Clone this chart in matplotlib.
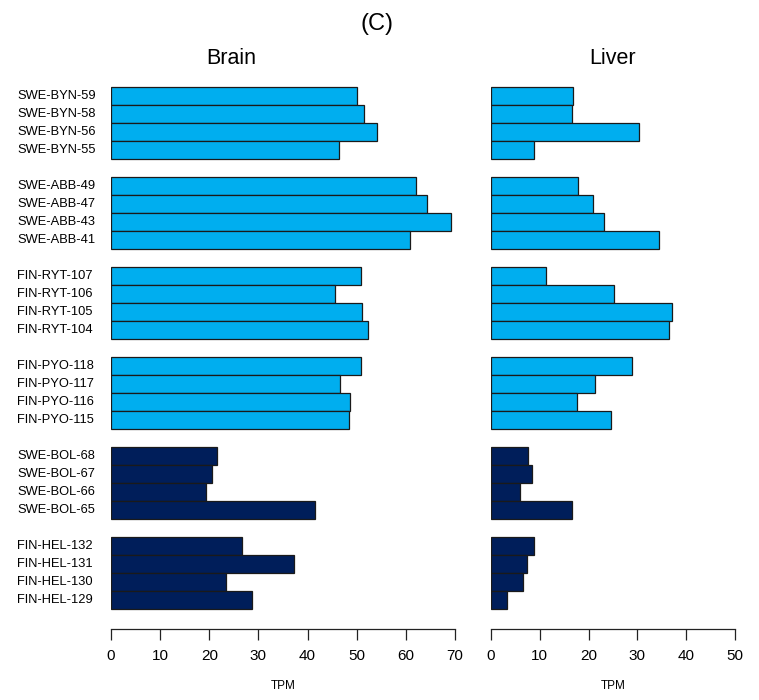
import matplotlib
matplotlib.use("Agg")
import matplotlib.pyplot as plt
import matplotlib.transforms as mtransforms

plt.rcParams['font.family'] = ['Liberation Sans', 'DejaVu Sans']

# ---- data ----
samples = [
    "SWE-BYN-59", "SWE-BYN-58", "SWE-BYN-56", "SWE-BYN-55",
    "SWE-ABB-49", "SWE-ABB-47", "SWE-ABB-43", "SWE-ABB-41",
    "FIN-RYT-107", "FIN-RYT-106", "FIN-RYT-105", "FIN-RYT-104",
    "FIN-PYO-118", "FIN-PYO-117", "FIN-PYO-116", "FIN-PYO-115",
    "SWE-BOL-68", "SWE-BOL-67", "SWE-BOL-66", "SWE-BOL-65",
    "FIN-HEL-132", "FIN-HEL-131", "FIN-HEL-130", "FIN-HEL-129",
]
brain_tpm = [
    50.1, 51.4, 54.2, 46.3,
    62.1, 64.4, 69.2, 60.9,
    50.8, 45.6, 51.0, 52.2,
    50.9, 46.5, 48.7, 48.5,
    21.5, 20.6, 19.4, 41.6,
    26.6, 37.2, 23.4, 28.7,
]
liver_tpm = [
    16.9, 16.6, 30.3, 8.9,
    17.8, 20.8, 23.2, 34.4,
    11.2, 25.2, 37.1, 36.4,
    28.8, 21.3, 17.6, 24.5,
    7.6, 8.5, 5.9, 16.7,
    8.8, 7.4, 6.6, 3.3,
]
# first four populations light blue, last two dark
group_of = [g for g in range(6) for _ in range(4)]
dark_groups = [4, 5]

light = "#00AEEF"
dark = "#001E5A"
colors = [dark if g in dark_groups else light for g in group_of]

# one empty bar slot between groups
ypos = [g * 5 + (i % 4) for i, g in enumerate(group_of)]

fig = plt.figure(figsize=(7.59, 7.0), dpi=100)
ax_b = fig.add_axes([111 / 759, 1 - 628.7 / 700, 344 / 759, (628.7 - 66.7) / 700])
ax_l = fig.add_axes([491 / 759, 1 - 628.7 / 700, 244 / 759, (628.7 - 66.7) / 700])

for ax, vals, xmax in [(ax_b, brain_tpm, 70), (ax_l, liver_tpm, 50)]:
    ax.barh(ypos, vals, height=1.0, color=colors, edgecolor="#1a1a1a", linewidth=0.9)
    ax.set_xlim(0, xmax)
    ax.set_ylim(29.61, -1.61)
    for s in ["top", "right", "left"]:
        ax.spines[s].set_visible(False)
    ax.spines["bottom"].set_bounds(0, xmax)
    ax.spines["bottom"].set_linewidth(0.9)
    ax.spines["bottom"].set_color("#222222")
    ax.set_yticks([])
    ax.set_xticks(range(0, xmax + 1, 10))
    ax.tick_params(axis="x", length=8, width=0.9, color="#222222", pad=6.5, labelsize=11)
    ax.set_xlabel("TPM", fontsize=8.5, labelpad=12)

# sample labels, left aligned at the figure edge
trans = mtransforms.blended_transform_factory(fig.transFigure, ax_b.transData)
for name, y in zip(samples, ypos):
    ax_b.text(17 / 759, y, name, transform=trans, ha="left", va="center",
              fontsize=9.3, clip_on=False)

fig.text(231 / 759, 1 - 59 / 700, "Brain", ha="center", va="center", fontsize=15.5)
fig.text(613 / 759, 1 - 59 / 700, "Liver", ha="center", va="center", fontsize=15.5)
fig.text(377 / 759, 1 - 24 / 700, "(C)", ha="center", va="center", fontsize=17)

fig.savefig("out.png", dpi=100, facecolor="white")
